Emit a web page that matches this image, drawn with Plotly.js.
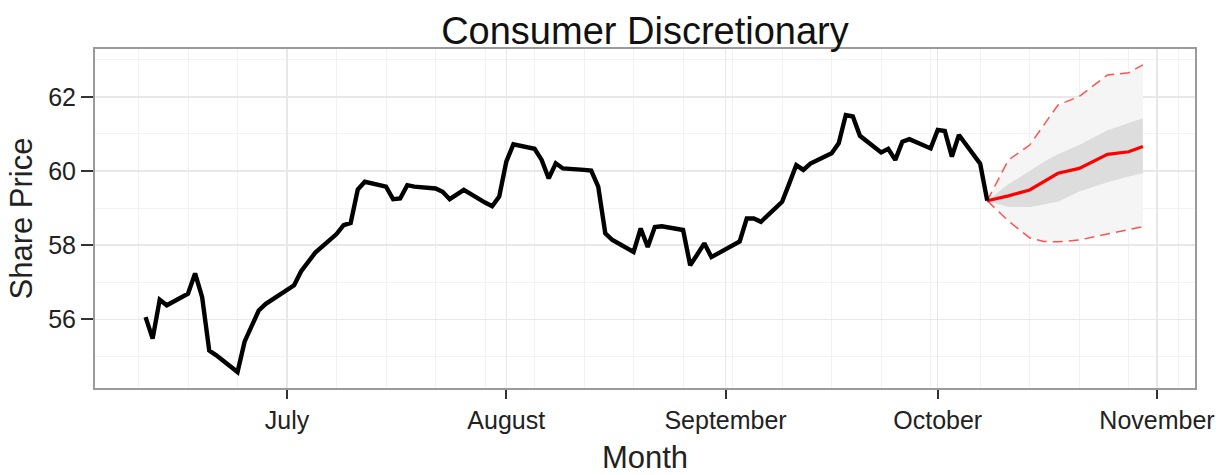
<!DOCTYPE html>
<html>
<head>
<meta charset="utf-8">
<script src="https://cdn.plot.ly/plotly-3.0.1.min.js"></script>
<style>html,body{margin:0;padding:0;background:#fff;}#chart{width:1232px;height:475px;}</style>
</head>
<body>
<div id="chart"></div>
<script>
// Historical daily share price (trading days, 2013)
var histDates = [
  '2013-06-11','2013-06-12','2013-06-13','2013-06-14','2013-06-17','2013-06-18','2013-06-19','2013-06-20','2013-06-21',
  '2013-06-24','2013-06-25','2013-06-26','2013-06-27','2013-06-28',
  '2013-07-01','2013-07-02','2013-07-03','2013-07-05','2013-07-08','2013-07-09','2013-07-10','2013-07-11','2013-07-12',
  '2013-07-15','2013-07-16','2013-07-17','2013-07-18','2013-07-19','2013-07-22','2013-07-23','2013-07-24','2013-07-25','2013-07-26',
  '2013-07-29','2013-07-30','2013-07-31','2013-08-01','2013-08-02',
  '2013-08-05','2013-08-06','2013-08-07','2013-08-08','2013-08-09','2013-08-12','2013-08-13','2013-08-14','2013-08-15','2013-08-16',
  '2013-08-19','2013-08-20','2013-08-21','2013-08-22','2013-08-23','2013-08-26','2013-08-27','2013-08-28','2013-08-29','2013-08-30',
  '2013-09-03','2013-09-04','2013-09-05','2013-09-06','2013-09-09','2013-09-10','2013-09-11','2013-09-12','2013-09-13',
  '2013-09-16','2013-09-17','2013-09-18','2013-09-19','2013-09-20','2013-09-23','2013-09-24','2013-09-25','2013-09-26','2013-09-27',
  '2013-09-30','2013-10-01','2013-10-02','2013-10-03','2013-10-04','2013-10-07','2013-10-08'
];
var histPrice = [
  56.06,55.48,56.53,56.38,56.69,57.24,56.60,55.16,55.03,
  54.58,55.40,55.85,56.24,56.42,
  56.80,56.92,57.30,57.80,58.30,58.54,58.60,59.50,59.71,
  59.58,59.24,59.26,59.62,59.58,59.53,59.44,59.24,59.38,59.49,
  59.15,59.05,59.31,60.25,60.72,
  60.60,60.30,59.80,60.21,60.07,60.03,60.01,59.58,58.32,58.14,
  57.82,58.45,57.95,58.49,58.51,58.41,57.46,57.75,58.05,57.68,
  58.10,58.72,58.72,58.63,59.17,59.66,60.16,60.03,60.20,
  60.48,60.75,61.51,61.47,60.95,60.50,60.60,60.30,60.79,60.86,
  60.61,61.11,61.08,60.39,60.97,60.20,59.20
];

// Forecast
var fcDates = ['2013-10-08','2013-10-11','2013-10-14','2013-10-16','2013-10-18','2013-10-21','2013-10-25','2013-10-28','2013-10-30'];
var fcMean  = [59.20,59.33,59.49,59.71,59.94,60.07,60.45,60.52,60.66];
var fcLo80  = [59.20,59.03,59.03,59.10,59.17,59.45,59.70,59.85,59.94];
var fcHi80  = [59.20,59.65,60.00,60.25,60.45,60.70,61.10,61.30,61.42];
var fcLo95  = [59.20,58.65,58.20,58.10,58.09,58.14,58.30,58.42,58.50];
var fcHi95  = [59.20,60.30,60.70,61.24,61.78,62.01,62.59,62.65,62.86];

// Axis ticks
var xTickVals = ['2013-07-01','2013-08-01','2013-09-01','2013-10-01','2013-11-01'];
var xTickText = ['July','August','September','October','November'];
var yTickVals = [56,58,60,62];

var FONT = 'Liberation Sans, Arial, Helvetica, sans-serif';

var traces = [
  {x: fcDates, y: fcLo95, mode: 'lines', line: {width: 0}, hoverinfo: 'skip', showlegend: false},
  {x: fcDates, y: fcHi95, mode: 'lines', line: {width: 0}, fill: 'tonexty', fillcolor: 'rgb(245,245,245)', hoverinfo: 'skip', showlegend: false},
  {x: fcDates, y: fcLo80, mode: 'lines', line: {width: 0}, hoverinfo: 'skip', showlegend: false},
  {x: fcDates, y: fcHi80, mode: 'lines', line: {width: 0}, fill: 'tonexty', fillcolor: 'rgb(221,221,221)', hoverinfo: 'skip', showlegend: false},
  {x: fcDates, y: fcLo95, mode: 'lines', line: {color: 'rgba(255,40,40,0.8)', width: 1.5, dash: '10px,6px'}, showlegend: false},
  {x: fcDates, y: fcHi95, mode: 'lines', line: {color: 'rgba(255,40,40,0.8)', width: 1.5, dash: '10px,6px'}, showlegend: false},
  {x: fcDates, y: fcMean, mode: 'lines', line: {color: '#ff0000', width: 3.2}, showlegend: false},
  {x: histDates, y: histPrice, mode: 'lines', line: {color: '#000000', width: 4.4}, showlegend: false}
];

var layout = {
  width: 1232, height: 475,
  margin: {l: 95, r: 37, t: 49, b: 87, pad: 0},
  paper_bgcolor: '#ffffff', plot_bgcolor: '#ffffff',
  font: {family: FONT, color: '#222222'},
  title: {text: 'Consumer Discretionary', font: {family: FONT, size: 38, color: '#111111'},
          x: 0.5235, xref: 'container', xanchor: 'center', y: 0.935, yref: 'container', yanchor: 'middle'},
  xaxis: {
    type: 'date',
    range: ['2013-06-03 20:24', '2013-11-06 09:00'],
    tickmode: 'array', tickvals: xTickVals, ticktext: xTickText,
    tickfont: {size: 25, color: '#222222'},
    ticks: 'outside', ticklen: 9, tickwidth: 2, tickcolor: '#333333',
    showgrid: true, gridcolor: '#e8e8e8', gridwidth: 1.5,
    minor: {dtick: 7 * 86400000, tick0: '2013-06-03', showgrid: true, gridcolor: '#f2f2f2', gridwidth: 1, ticks: ''},
    showline: true, mirror: true, linecolor: '#9a9a9a', linewidth: 2,
    zeroline: false,
    title: {text: 'Month', font: {size: 31, color: '#222222'}, standoff: 15},
    fixedrange: true
  },
  yaxis: {
    range: [54.15, 63.29],
    tickmode: 'array', tickvals: yTickVals,
    tickfont: {size: 25, color: '#222222'},
    ticks: 'outside', ticklen: 12, tickwidth: 2, tickcolor: '#333333',
    showgrid: true, gridcolor: '#e8e8e8', gridwidth: 1.5,
    minor: {dtick: 1, tick0: 55, showgrid: true, gridcolor: '#f2f2f2', gridwidth: 1, ticks: ''},
    showline: true, mirror: true, linecolor: '#9a9a9a', linewidth: 2,
    zeroline: false,
    title: {text: 'Share Price', font: {size: 31, color: '#222222'}, standoff: 6},
    fixedrange: true
  },
  showlegend: false
};

Plotly.newPlot('chart', traces, layout, {displayModeBar: false, staticPlot: true});
</script>
</body>
</html>
